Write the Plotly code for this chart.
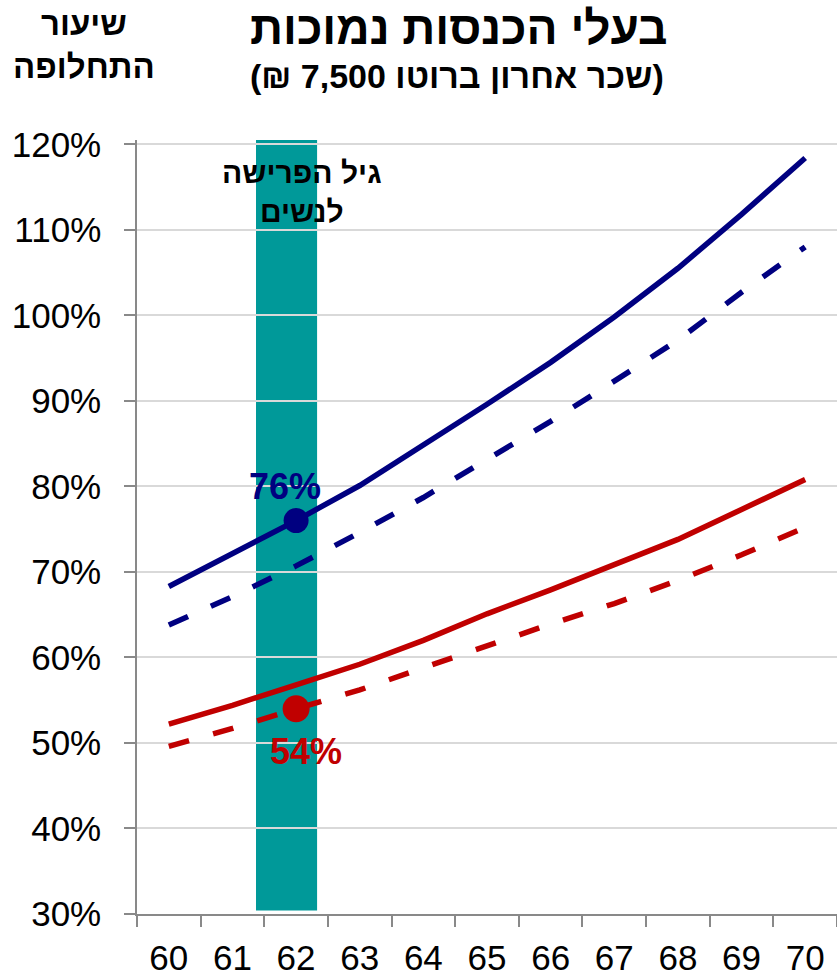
import plotly.graph_objects as go

# ---------------- data ----------------
ages = [60, 61, 62, 63, 64, 65, 66, 67, 68, 69, 70]
age_labels = [str(a) for a in ages]
high_solid = [68.3, 72.2, 76.0, 80.1, 84.8, 89.6, 94.5, 99.8, 105.5, 111.8, 118.4]
high_dash = [63.8, 67.1, 70.7, 74.6, 78.7, 83.2, 87.6, 92.3, 97.1, 102.7, 108.0]
low_solid = [52.2, 54.4, 56.8, 59.2, 62.0, 65.1, 67.9, 70.8, 73.8, 77.3, 80.8]
low_dash = [49.6, 51.7, 54.0, 56.2, 58.8, 61.4, 63.9, 66.3, 69.0, 72.0, 75.2]
women_ret_age = 62
y_ticks = [30, 40, 50, 60, 70, 80, 90, 100, 110, 120]
y_tick_labels = [f"{v}%" for v in y_ticks]

title_text = "בעלי הכנסות נמוכות"
subtitle_text = "\u202B(שכר אחרון ברוטו 7,500 ₪)\u202C"
ytitle_text = "שיעור<br>התחלופה"
band_text = "גיל הפרישה<br>לנשים"

NAVY = "#000080"
RED = "#C00000"
TEAL = "#009999"
AXIS = "#898989"
GRID = "#d9d9d9"
FONT = "Liberation Sans, Arial, sans-serif"

idx = ages.index(women_ret_age)
hi_val = high_solid[idx]
lo_val = low_dash[idx]

fig = go.Figure()

LW = 5.5
dash_pat = "21px,25px"
fig.add_trace(go.Scatter(x=age_labels, y=high_solid, mode="lines",
                         line=dict(color=NAVY, width=LW), hoverinfo="skip"))
fig.add_trace(go.Scatter(x=age_labels, y=high_dash, mode="lines",
                         line=dict(color=NAVY, width=LW, dash=dash_pat), hoverinfo="skip"))
fig.add_trace(go.Scatter(x=age_labels, y=low_solid, mode="lines",
                         line=dict(color=RED, width=LW), hoverinfo="skip"))
fig.add_trace(go.Scatter(x=age_labels, y=low_dash, mode="lines",
                         line=dict(color=RED, width=LW, dash=dash_pat), hoverinfo="skip"))
fig.add_trace(go.Scatter(x=[age_labels[idx]], y=[hi_val], mode="markers",
                         marker=dict(color=NAVY, size=25), hoverinfo="skip"))
fig.add_trace(go.Scatter(x=[age_labels[idx]], y=[lo_val], mode="markers",
                         marker=dict(color=RED, size=27), hoverinfo="skip"))

# highlight band for women's retirement age (drawn below gridlines)
fig.add_shape(type="rect", xref="x", yref="y",
              x0=idx - 0.63, x1=idx + 0.33, y0=30.4, y1=120.5,
              fillcolor=TEAL, line=dict(width=0), layer="below")

fig.update_layout(
    width=837, height=980,
    margin=dict(l=137, r=0, t=140, b=66),
    paper_bgcolor="white", plot_bgcolor="white",
    showlegend=False,
    font=dict(family=FONT, color="black"),
    xaxis=dict(type="category", range=[-0.5, 10.5], tickson="boundaries",
               ticks="outside", ticklen=11, tickwidth=1.5, tickcolor=AXIS,
               showline=True, linecolor=AXIS, linewidth=1.5, ticklabelstandoff=12,
               showgrid=False, tickfont=dict(size=35, family=FONT, color="black")),
    yaxis=dict(range=[30, 120.5], tickvals=y_ticks, ticktext=y_tick_labels,
               ticks="outside", ticklen=11, tickwidth=1.5, tickcolor=AXIS,
               showline=True, linecolor=AXIS, linewidth=1.5, ticklabelstandoff=16,
               showgrid=True, gridcolor=GRID, gridwidth=1.5, zeroline=False,
               tickfont=dict(size=35, family=FONT, color="black")),
)


def px_to_paper(px):
    return (px - 137) / 700.0


def top_shift(py):
    # convert a pixel row (from top of page) to a shift from the plot top
    return 140 - py


fig.add_annotation(x=px_to_paper(459), y=1, xref="paper", yref="paper",
                   yshift=top_shift(28), text=f"<b>{title_text}</b>", showarrow=False,
                   font=dict(size=46, family=FONT, color="black"), xanchor="center", yanchor="middle")
fig.add_annotation(x=px_to_paper(457), y=1, xref="paper", yref="paper",
                   yshift=top_shift(76), text=f"<b>{subtitle_text}</b>", showarrow=False,
                   font=dict(size=34, family=FONT, color="black"), xanchor="center", yanchor="middle")
fig.add_annotation(x=px_to_paper(84), y=1, xref="paper", yref="paper",
                   yshift=top_shift(45), text=f"<b>{ytitle_text}</b>", showarrow=False,
                   font=dict(size=33, family=FONT, color="black"), xanchor="center", yanchor="middle")
fig.add_annotation(x=px_to_paper(302), y=1, xref="paper", yref="paper",
                   yshift=top_shift(192), text=f"<b>{band_text}</b>", showarrow=False,
                   font=dict(size=30, family=FONT, color="black"), xanchor="center", yanchor="middle")
fig.add_annotation(x=idx, y=hi_val, xref="x", yref="y",
                   text=f"<b>{hi_val:.0f}%</b>", showarrow=False, xshift=-11, yshift=34,
                   font=dict(size=36, family=FONT, color=NAVY))
fig.add_annotation(x=idx, y=lo_val, xref="x", yref="y",
                   text=f"<b>{lo_val:.0f}%</b>", showarrow=False, xshift=10, yshift=-43,
                   font=dict(size=36, family=FONT, color=RED))

fig.write_html("out.html")
